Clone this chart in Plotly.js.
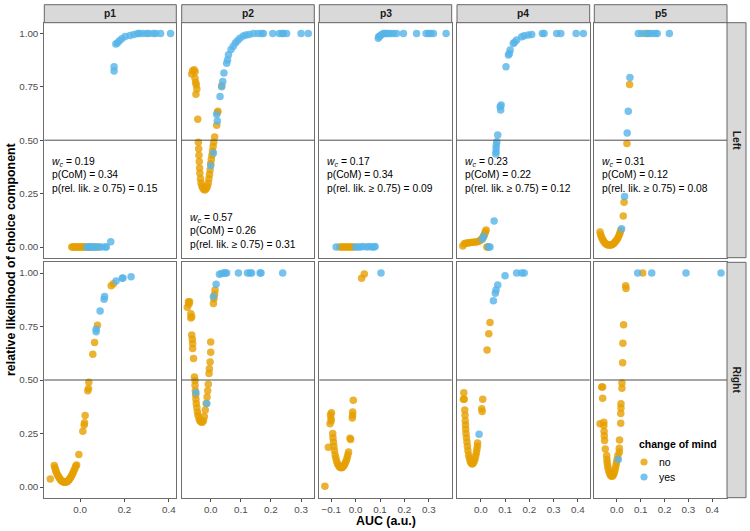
<!DOCTYPE html>
<html><head><meta charset="utf-8">
<script src="https://cdn.plot.ly/plotly-3.0.1.min.js"></script>
<style>html,body{margin:0;padding:0;background:#fff}</style>
</head><body><div id="chart" style="width:750px;height:531px"></div>
<script>
const panels = ['p1','p2','p3','p4','p5'];
const rows = ['Left','Right'];
const legendTitle = 'change of mind';
const groups = ['no','yes'];
const colors = {no:'#E69F00', yes:'#56B4E9'};
const xTicks = [[0,0.2,0.4],[0,0.1,0.2,0.3],[-0.1,0,0.1,0.2,0.3],[0,0.1,0.2,0.3,0.4],[0,0.1,0.2,0.3,0.4]];
const yTicks = [0,0.25,0.5,0.75,1];
const xRanges = [[-0.162,0.434],[-0.0963,0.344],[-0.149,0.394],[-0.098,0.449],[-0.095,0.462]];
const wc   = [0.19,0.57,0.17,0.23,0.31];
const pCoM = [0.34,0.26,0.34,0.22,0.12];
const pRel = [0.15,0.31,0.09,0.12,0.08];

// ---- data: [AUC, relative likelihood] ----
const p1LeftNo = [[-0.038,0],[-0.032,0],[-0.026,0],[-0.02,0],[-0.014,0],[-0.008,0],[-0.002,0],[0.004,0],[0.01,0],[0.016,0],[0.022,0],[0.028,0],[0.034,0],[0.04,0],[0.046,0],[0.07,0],[0.078,0]];
const p1LeftYes = [[0.03,0],[0.038,0],[0.045,0],[0.052,0],[0.06,0],[0.066,0],[0.085,0],[0.095,0],[0.112,0],[0.118,0],[0.138,0.025],
 [0.153,0.844],[0.153,0.824],[0.161,0.95],[0.168,0.955],[0.177,0.965],[0.188,0.975],[0.203,0.985],[0.225,0.99],[0.243,0.995],[0.26,1],[0.267,1],[0.282,1],[0.3,1],[0.309,1],[0.33,1],[0.341,1],[0.363,1],[0.408,1]];
const p1RightNo = [[-0.135,0.037],[-0.117,0.1],[-0.114,0.09],[-0.111,0.08],[-0.108,0.07],[-0.104,0.06],[-0.1,0.052],[-0.096,0.045],[-0.092,0.038],[-0.088,0.033],[-0.084,0.029],[-0.08,0.026],[-0.076,0.024],[-0.072,0.022],[-0.068,0.022],[-0.064,0.023],[-0.06,0.025],[-0.056,0.028],[-0.052,0.032],[-0.048,0.037],[-0.044,0.043],[-0.04,0.05],[-0.036,0.058],[-0.032,0.067],[-0.028,0.077],[-0.024,0.087],[-0.02,0.098],[-0.016,0.103],
 [-0.006,0.152],[0.012,0.26],[0.018,0.29],[0.0195,0.3],[0.0225,0.334],[0.0345,0.45],[0.0375,0.46],[0.039,0.49],[0.057,0.62],[0.065,0.675],[0.078,0.756],[0.14,0.94],[0.15,0.95]];
const p1RightYes = [[0.072,0.737],[0.072,0.725],[0.09,0.823],[0.108,0.877],[0.11,0.89],[0.162,0.963],[0.19,0.975],[0.193,0.977],[0.23,0.983]];

const p2LeftNo = [[-0.063,0.81],[-0.06,0.825],[-0.055,0.83],[-0.052,0.82],[-0.052,0.79],[-0.05,0.77],[-0.048,0.76],[-0.046,0.74],[-0.049,0.715],[-0.043,0.598],
 [-0.041,0.49],[-0.04,0.46],[-0.039,0.43],[-0.038,0.4],[-0.037,0.37],[-0.036,0.345],[-0.034,0.32],[-0.032,0.3],[-0.029,0.285],[-0.026,0.275],[-0.022,0.268],[-0.018,0.268],[-0.014,0.275],[-0.011,0.285],[-0.008,0.3],[-0.006,0.32],[-0.004,0.34],[-0.002,0.36],[0,0.39],[0.002,0.41],[0.004,0.43],[0.006,0.45],[0.008,0.47],[0.01,0.49],[0.013,0.515],
 [0.02,0.57],[0.022,0.63],[0.024,0.635],[0.0365,0.755]];
const p2LeftYes = [[0,0.38],[0.009,0.44],[0.02,0.62],[0.022,0.59],[0.031,0.705],[0.0365,0.75],[0.04,0.775],[0.044,0.815],[0.053,0.86],[0.056,0.875],[0.059,0.9],[0.0675,0.925],[0.075,0.94],[0.082,0.955],[0.089,0.965],[0.097,0.977],[0.108,0.988],[0.117,0.992],[0.128,0.995],[0.142,1],[0.157,1],[0.169,1],[0.175,1],[0.206,1],[0.228,1],[0.237,1],[0.241,1],[0.252,1],[0.3,1],[0.324,1]];
const p2RightNo = [[-0.0775,0.84],[-0.074,0.866],[-0.07,0.866],[-0.072,0.855],[-0.066,0.81],[-0.063,0.795],[-0.066,0.79],[-0.063,0.71],[-0.061,0.69],[-0.06,0.67],[-0.06,0.647],[-0.057,0.6],[-0.054,0.514],[-0.052,0.498],
 [-0.052,0.475],[-0.051,0.45],[-0.05,0.43],[-0.049,0.41],[-0.048,0.39],[-0.046,0.37],[-0.044,0.35],[-0.042,0.335],[-0.039,0.32],[-0.036,0.31],[-0.032,0.304],[-0.028,0.302],[-0.024,0.31],[-0.021,0.33],[-0.018,0.36],[-0.015,0.39],[-0.012,0.42],[-0.01,0.45],[-0.008,0.48],
 [-0.0055,0.53],[-0.0044,0.553],[-0.002,0.584],[0,0.63],[0,0.678],[0.009,0.858],[0.011,0.88],[0.013,0.9],[0.0144,0.92]];
const p2RightYes = [[-0.049,0.44],[-0.013,0.39],[0.009,0.89],[0.018,0.947],[0.029,0.994],[0.0365,0.998],[0.044,1],[0.048,1],[0.053,1],[0.092,1],[0.122,1],[0.131,1],[0.136,1],[0.164,1],[0.167,1],[0.239,1]];

const p3LeftNo = [[-0.065,0],[-0.058,0],[-0.05,0],[-0.043,0],[-0.036,0],[-0.029,0],[-0.022,0],[-0.015,0],[-0.008,0]];
const p3LeftYes = [[-0.08,0],[0,0],[0.01,0],[0.02,0],[0.03,0.002],[0.045,0],[0.055,0.003],[0.066,0],[0.075,0],[0.08,0.002],
 [0.093,0.977],[0.095,0.985],[0.1,0.988],[0.107,0.995],[0.114,1],[0.12,1],[0.127,1],[0.134,1],[0.144,1],[0.155,1],[0.168,1],[0.196,1],[0.25,1],[0.289,1],[0.3,1],[0.308,1],[0.319,1],[0.371,1]];
const p3RightNo = [[-0.126,0.003],[-0.112,0.186],[-0.105,0.295],[-0.103,0.3375],[-0.099,0.347],[-0.101,0.32],[-0.1,0.31],
 [-0.094,0.25],[-0.093,0.23],[-0.091,0.21],[-0.089,0.19],[-0.087,0.17],[-0.084,0.15],[-0.081,0.135],[-0.078,0.12],[-0.074,0.108],[-0.07,0.1],[-0.066,0.094],[-0.062,0.091],[-0.058,0.09],[-0.054,0.092],[-0.05,0.097],[-0.046,0.104],[-0.042,0.113],[-0.038,0.124],[-0.035,0.136],[-0.032,0.15],[-0.029,0.163],
 [-0.023,0.228],[-0.0205,0.222],[-0.0137,0.323],[-0.012,0.35],[-0.0125,0.335],[-0.0096,0.405],[0.0246,0.975],[0.0356,0.995]];
const p3RightYes = [[0.104,1]];

const p4LeftNo = [[-0.074,0.005],[-0.068,0.015],[-0.062,0.018],[-0.055,0.019],[-0.048,0.02],[-0.04,0.021],[-0.032,0.022],[-0.024,0.023],[-0.016,0.024],[-0.008,0.027],[-0.003,0.03],[0.003,0.036],[0.008,0.043],[0.011,0.048],[0.014,0.056],[0.017,0.065],[0.019,0.072],[0.022,0.08],[0.025,0],[0.03,0]];
const p4LeftYes = [[0.006,0.036],[0.012,0.05],[0.032,0],[0.038,0],[0.055,0.122],[0.062,0.435],[0.063,0.446],[0.063,0.462],[0.064,0.477],[0.066,0.493],[0.07,0.524],[0.08,0.657],[0.082,0.641],[0.084,0.665],[0.104,0.844],[0.114,0.899],[0.118,0.906],[0.121,0.922],[0.134,0.953],[0.139,0.958],[0.148,0.969],[0.169,0.984],[0.179,0.989],[0.196,0.992],[0.21,0.995],[0.254,1],[0.261,1],[0.313,1],[0.33,1],[0.393,1],[0.423,1]];
const p4RightNo = [[0.038,0.769],[0.033,0.716],[0.026,0.64],[-0.07,0.44],[-0.072,0.41],[-0.068,0.41],
 [-0.066,0.36],[-0.065,0.335],[-0.064,0.31],[-0.063,0.29],[-0.062,0.27],[-0.061,0.25],[-0.059,0.23],[-0.057,0.21],[-0.055,0.19],[-0.053,0.17],[-0.05,0.15],[-0.047,0.135],[-0.044,0.122],[-0.04,0.112],[-0.036,0.108],[-0.032,0.11],[-0.028,0.118],[-0.024,0.13],[-0.021,0.145],[-0.018,0.16],[-0.016,0.175],[-0.014,0.19],[-0.013,0.206],
 [0.004,0.366],[0.0055,0.353],[0.008,0.41]];
const p4RightYes = [[0.148,1],[0.169,1],[0.179,1],[0.1,0.9875],[0.07,0.944],[0.063,0.92],[0.06,0.905],[0.052,0.87],[-0.007,0.247]];

const p5LeftNo = [[0.119,1],[0.053,0.761],[0.042,0.485],[0.03,0.21],[0.0266,0.145],
 [-0.071,0.07],[-0.068,0.058],[-0.065,0.047],[-0.061,0.037],[-0.057,0.029],[-0.053,0.022],[-0.048,0.016],[-0.043,0.012],[-0.038,0.01],[-0.033,0.009],[-0.028,0.009],[-0.023,0.01],[-0.018,0.013],[-0.013,0.017],[-0.008,0.023],[-0.003,0.03],[0.002,0.038],[0.006,0.047],[0.01,0.057],[0.013,0.067],[0.016,0.078]];
const p5LeftYes = [[0.0896,1],[0.104,1],[0.127,1],[0.135,1],[0.146,1],[0.16,1],[0.169,1],[0.22,1],[0.0546,0.794],[0.0476,0.636],[0.043,0.534],[0.032,0.236],[0.0196,0.086]];
const p5RightNo = [[0.108,1],[0.0365,0.94],[0.038,0.928],[0.028,0.758],[0.025,0.672],[0.024,0.581],[0.021,0.486],[0.021,0.462],[0.017,0.389],[0.017,0.369],[0.016,0.344],[0.016,0.298],[0.011,0.22],[0.01,0.181],[0.01,0.162],
 [-0.064,0.467],[-0.06,0.467],[-0.06,0.415],[-0.071,0.295],[-0.055,0.303],[-0.055,0.287],[-0.054,0.26],[-0.053,0.24],[-0.052,0.217],[-0.049,0.178],
 [-0.043,0.147],[-0.042,0.13],[-0.041,0.115],[-0.039,0.1],[-0.037,0.088],[-0.034,0.075],[-0.031,0.065],[-0.028,0.057],[-0.025,0.052],[-0.022,0.05],[-0.019,0.051],[-0.016,0.055],[-0.013,0.062],[-0.01,0.072],[-0.007,0.085],[-0.004,0.1],[-0.002,0.115],[0.001,0.13],[0.004,0.147]];
const p5RightYes = [[0.087,1],[0.146,1],[0.29,1],[0.437,1],[0.0055,0.128]];

const series = {
  p1:{Left:{no:p1LeftNo,yes:p1LeftYes},Right:{no:p1RightNo,yes:p1RightYes}},
  p2:{Left:{no:p2LeftNo,yes:p2LeftYes},Right:{no:p2RightNo,yes:p2RightYes}},
  p3:{Left:{no:p3LeftNo,yes:p3LeftYes},Right:{no:p3RightNo,yes:p3RightYes}},
  p4:{Left:{no:p4LeftNo,yes:p4LeftYes},Right:{no:p4RightNo,yes:p4RightYes}},
  p5:{Left:{no:p5LeftNo,yes:p5LeftYes},Right:{no:p5RightNo,yes:p5RightYes}}
};

// ---- layout geometry (pixels) ----
const W = 750, H = 531;
const colX = [[44.3,176.3],[181.7,314.3],[319.3,451.7],[457,589.7],[594.3,727]];
const rowY = [[22.7,257.7],[262.3,497.7]];
const stripTop = [4.7,22.7];
const stripRight = [727,746];
const px = v => v / W;
const py = v => 1 - v / H;
const FONT = 'Liberation Sans, Arial, Helvetica, sans-serif';

const traces = [];
const layout = {
  width: W, height: H, margin:{l:0,r:0,t:0,b:0},
  paper_bgcolor:'#fff', plot_bgcolor:'#fff', showlegend:false,
  font:{family:FONT, color:'#4d4d4d'},
  shapes:[], annotations:[]
};

rows.forEach((row, r) => {
  panels.forEach((p, i) => {
    const k = r*5 + i + 1;
    const s = k === 1 ? '' : String(k);
    groups.forEach(g => {
      const arr = series[p][row][g];
      traces.push({type:'scatter', mode:'markers', x:arr.map(d=>d[0]), y:arr.map(d=>d[1]),
        xaxis:'x'+s, yaxis:'y'+s, hoverinfo:'skip', showlegend:false,
        marker:{color:colors[g], size:7.5, opacity:0.8, line:{width:0}}});
    });
    layout['xaxis'+s] = {
      domain:[px(colX[i][0]), px(colX[i][1])], range:xRanges[i], anchor:'y'+s,
      showgrid:false, zeroline:false, showline:true, mirror:true, linecolor:'#6e6e6e', linewidth:1,
      tickvals:xTicks[i], tickformat:'.1f', showticklabels: r===1, ticks: r===1 ? 'outside' : '',
      ticklen:3, tickcolor:'#4d4d4d', tickfont:{size:9.8, color:'#4d4d4d', family:FONT}
    };
    layout['yaxis'+s] = {
      domain:[py(rowY[r][1]), py(rowY[r][0])], range:[-0.05,1.05], anchor:'x'+s,
      showgrid:false, zeroline:false, showline:true, mirror:true, linecolor:'#6e6e6e', linewidth:1,
      tickvals:yTicks, tickformat:'.2f', showticklabels: i===0, ticks: i===0 ? 'outside' : '',
      ticklen:3, tickcolor:'#4d4d4d', tickfont:{size:9.8, color:'#4d4d4d', family:FONT}
    };
    layout.shapes.push({type:'line', xref:'x'+s+' domain', x0:0, x1:1, yref:'y'+s, y0:0.5, y1:0.5,
      line:{color:'#4d4d4d', width:1}});
  });
});

// strips
panels.forEach((p, i) => {
  layout.shapes.push({type:'rect', xref:'paper', yref:'paper', x0:px(colX[i][0]), x1:px(colX[i][1]),
    y0:py(stripTop[1]), y1:py(stripTop[0]), fillcolor:'#d9d9d9', line:{color:'#666', width:1}});
  layout.annotations.push({xref:'paper', yref:'paper', x:px((colX[i][0]+colX[i][1])/2), y:py((stripTop[0]+stripTop[1])/2),
    text:'<b>'+p+'</b>', showarrow:false, xanchor:'center', yanchor:'middle', font:{size:10.3, color:'#1a1a1a', family:FONT}});
});
rows.forEach((row, r) => {
  layout.shapes.push({type:'rect', xref:'paper', yref:'paper', x0:px(stripRight[0]), x1:px(stripRight[1]),
    y0:py(rowY[r][1]), y1:py(rowY[r][0]), fillcolor:'#d9d9d9', line:{color:'#666', width:1}});
  layout.annotations.push({xref:'paper', yref:'paper', x:px((stripRight[0]+stripRight[1])/2), y:py((rowY[r][0]+rowY[r][1])/2),
    text:'<b>'+row+'</b>', textangle:90, showarrow:false, xanchor:'center', yanchor:'middle', font:{size:10.3, color:'#1a1a1a', family:FONT}});
});

// stats text (one multi-line block per panel)
const textMid = [175, 231, 175, 175, 175];
panels.forEach((p, i) => {
  const t = '<i>w</i><sub><i>c</i></sub> = '+wc[i].toFixed(2)+'<br>p(CoM) = '+pCoM[i].toFixed(2)+'<br>p(rel. lik. \u2265 0.75) = '+pRel[i].toFixed(2);
  layout.annotations.push({xref:'paper', yref:'paper', x:px(colX[i][0]+6), y:py(textMid[i]),
    text:t, showarrow:false, xanchor:'left', yanchor:'middle', align:'left', font:{size:10.3, color:'#000', family:FONT}});
});

// axis titles
layout.annotations.push({xref:'paper', yref:'paper', x:px((colX[0][0]+colX[4][1])/2), y:py(521), text:'<b>AUC (a.u.)</b>',
  showarrow:false, xanchor:'center', yanchor:'middle', font:{size:12.4, color:'#000', family:FONT}});
layout.annotations.push({xref:'paper', yref:'paper', x:px(11), y:py(260), text:'<b>relative likelihood of choice component</b>', textangle:-90,
  showarrow:false, xanchor:'center', yanchor:'middle', font:{size:12.4, color:'#000', family:FONT}});

// legend (drawn manually)
layout.annotations.push({xref:'paper', yref:'paper', x:px(637), y:py(444), text:'<b>'+legendTitle+'</b>', showarrow:false,
  xanchor:'left', yanchor:'middle', font:{size:10.5, color:'#000', family:FONT}});
groups.forEach((g, j) => {
  const cy = 462 + j*15, cx = 644, rr = 3.6;
  layout.shapes.push({type:'circle', xref:'paper', yref:'paper', x0:px(cx-rr), x1:px(cx+rr), y0:py(cy+rr), y1:py(cy-rr),
    fillcolor:colors[g], opacity:0.8, line:{width:0}});
  layout.annotations.push({xref:'paper', yref:'paper', x:px(657), y:py(cy), text:g, showarrow:false,
    xanchor:'left', yanchor:'middle', font:{size:10.5, color:'#000', family:FONT}});
});

Plotly.newPlot('chart', traces, layout, {displayModeBar:false, staticPlot:true});
</script>
</body></html>
